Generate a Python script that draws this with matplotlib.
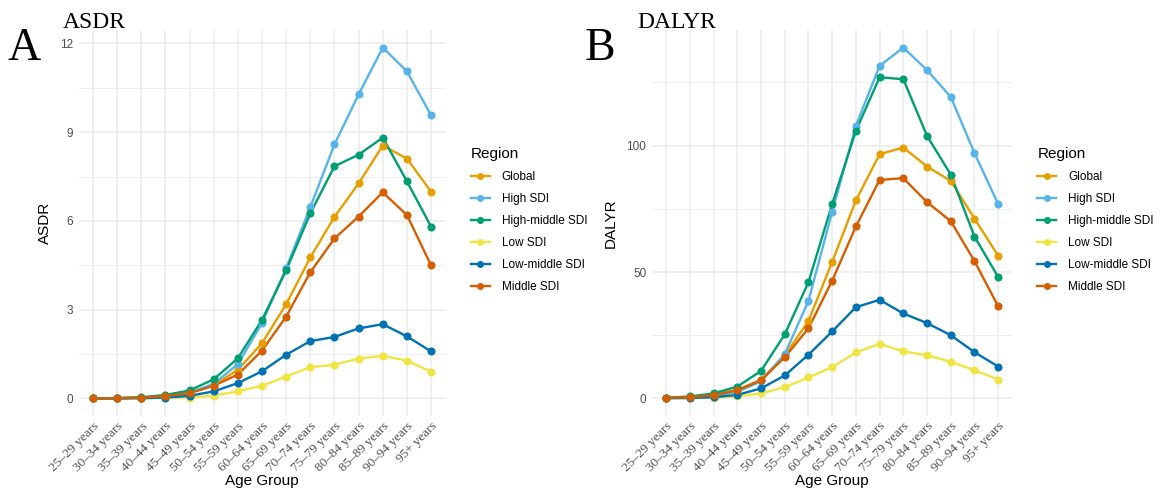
import matplotlib.pyplot as plt
import matplotlib.transforms as mtransforms
from matplotlib.ticker import MultipleLocator

# Data
ages = ["25\u201329 years", "30\u201334 years", "35\u201339 years", "40\u201344 years",
        "45\u201349 years", "50\u201354 years", "55\u201359 years", "60\u201364 years",
        "65\u201369 years", "70\u201374 years", "75\u201379 years", "80\u201384 years",
        "85\u201389 years", "90\u201394 years", "95+ years"]
regions = ["Global", "High SDI", "High-middle SDI", "Low SDI", "Low-middle SDI", "Middle SDI"]
colors = ["#E69F00", "#56B4E9", "#009E73", "#F0E442", "#0072B2", "#D55E00"]

asdr_global = [0, 0.01, 0.03, 0.08, 0.2, 0.45, 0.97, 1.87, 3.19, 4.77, 6.14, 7.27, 8.55, 8.11, 6.99]
asdr_high = [0, 0.01, 0.03, 0.07, 0.18, 0.5, 1.16, 2.55, 4.41, 6.47, 8.59, 10.28, 11.86, 11.06, 9.57]
asdr_highmid = [0, 0.01, 0.04, 0.12, 0.27, 0.65, 1.36, 2.66, 4.33, 6.26, 7.85, 8.24, 8.82, 7.34, 5.81]
asdr_low = [0, 0.0, 0.01, 0.02, 0.03, 0.1, 0.24, 0.43, 0.74, 1.06, 1.14, 1.35, 1.44, 1.28, 0.9]
asdr_lowmid = [0, 0.0, 0.01, 0.03, 0.09, 0.24, 0.52, 0.92, 1.48, 1.94, 2.08, 2.37, 2.51, 2.1, 1.59]
asdr_middle = [0, 0.01, 0.03, 0.08, 0.18, 0.43, 0.81, 1.62, 2.77, 4.27, 5.41, 6.15, 6.97, 6.2, 4.5]

daly_global = [0.3, 0.6, 1.5, 3.4, 7.4, 17.0, 30.7, 54.0, 78.3, 96.6, 99.2, 91.7, 86.0, 71.1, 56.4]
daly_high = [0.2, 0.4, 1.0, 2.6, 6.8, 17.5, 38.6, 73.8, 107.8, 131.5, 138.7, 129.8, 119.2, 97.0, 76.8]
daly_highmid = [0.3, 0.8, 2.0, 4.7, 10.9, 25.3, 46.0, 76.9, 105.8, 127.0, 126.2, 103.8, 88.5, 64.0, 48.0]
daly_low = [0.1, 0.2, 0.3, 0.8, 2.0, 4.5, 8.3, 12.4, 18.2, 21.6, 18.6, 17.1, 14.5, 11.2, 7.5]
daly_lowmid = [0.1, 0.2, 0.5, 1.4, 4.0, 9.1, 17.3, 26.5, 36.1, 39.0, 33.6, 29.8, 25.0, 18.3, 12.6]
daly_middle = [0.3, 0.5, 1.3, 3.2, 7.2, 16.3, 27.7, 46.6, 68.0, 86.4, 87.1, 77.6, 70.1, 54.3, 36.4]

asdr = [asdr_global, asdr_high, asdr_highmid, asdr_low, asdr_lowmid, asdr_middle]
daly = [daly_global, daly_high, daly_highmid, daly_low, daly_lowmid, daly_middle]

sans = "Liberation Sans"
serif = "Liberation Serif"

fig = plt.figure(figsize=(11.6, 4.91), dpi=100)
ax1 = fig.add_axes([0.0677, 0.1527, 0.3164, 0.786])
ax2 = fig.add_axes([0.562, 0.1527, 0.3108, 0.786])

x = list(range(len(ages)))


def draw(ax, series, ylabel, major, minor, top):
    for vals, c in zip(series, colors):
        ax.plot(x, vals, color=c, lw=1.7, zorder=2)
    for vals, c in zip(series, colors):
        ax.plot(x, vals, color=c, lw=0, marker="o", ms=4.8, zorder=3)
    ax.set_xlim(-0.6, len(ages) - 0.4)
    ax.set_ylim(-top * 0.05, top * 1.05)
    ax.yaxis.set_major_locator(MultipleLocator(major))
    ax.yaxis.set_minor_locator(MultipleLocator(minor))
    ax.set_xticks(x)
    ax.set_xticklabels(ages, rotation=45, ha="right", rotation_mode="anchor",
                       family=serif, fontsize=9.5, color="#4D4D4D")
    # nudge the rotated labels a little right and down, as in the reference
    shift = mtransforms.ScaledTranslation(4 / 72, -3 / 72, fig.dpi_scale_trans)
    for lab in ax.get_xticklabels():
        lab.set_transform(lab.get_transform() + shift)
    for lab in ax.get_yticklabels():
        lab.set_family(sans)
    ax.tick_params(axis="y", labelsize=8.5, labelcolor="#4D4D4D", length=0, pad=4)
    ax.tick_params(axis="x", length=0, pad=3)
    ax.tick_params(which="minor", length=0)
    ax.grid(which="major", color="#EBEBEB", lw=1.1)
    ax.grid(which="minor", axis="y", color="#EBEBEB", lw=0.6)
    ax.set_axisbelow(True)
    for s in ax.spines.values():
        s.set_visible(False)
    ax.set_xlabel("Age Group", family=sans, fontsize=11, labelpad=0)
    ax.set_ylabel(ylabel, family=sans, fontsize=11, labelpad=6)

    handles = [plt.Line2D([], [], color=c, lw=1.7, marker="o", ms=4) for c in colors]
    leg = ax.legend(handles, regions, title="Region", loc="upper left",
                    bbox_to_anchor=(1.04, 0.725), frameon=False,
                    prop={"family": sans, "size": 8.5}, handlelength=1.6,
                    handletextpad=1.0, labelspacing=0.85)
    leg.get_title().set_family(sans)
    leg.get_title().set_fontsize(11)
    leg._legend_box.align = "left"


draw(ax1, asdr, "ASDR", 3, 1.5, 11.86)
draw(ax2, daly, "DALYR", 50, 25, 138.7)

fig.text(63 / 1160, 1 - 28 / 491, "ASDR", family=serif, fontsize=17, va="baseline")
fig.text(8 / 1160, 1 - 60 / 491, "A", family=serif, fontsize=33, va="baseline")
fig.text(637 / 1160, 1 - 28 / 491, "DALYR", family=serif, fontsize=17, va="baseline")
fig.text(585 / 1160, 1 - 60 / 491, "B", family=serif, fontsize=33, va="baseline")

plt.savefig("out.png", dpi=100, facecolor="white")
